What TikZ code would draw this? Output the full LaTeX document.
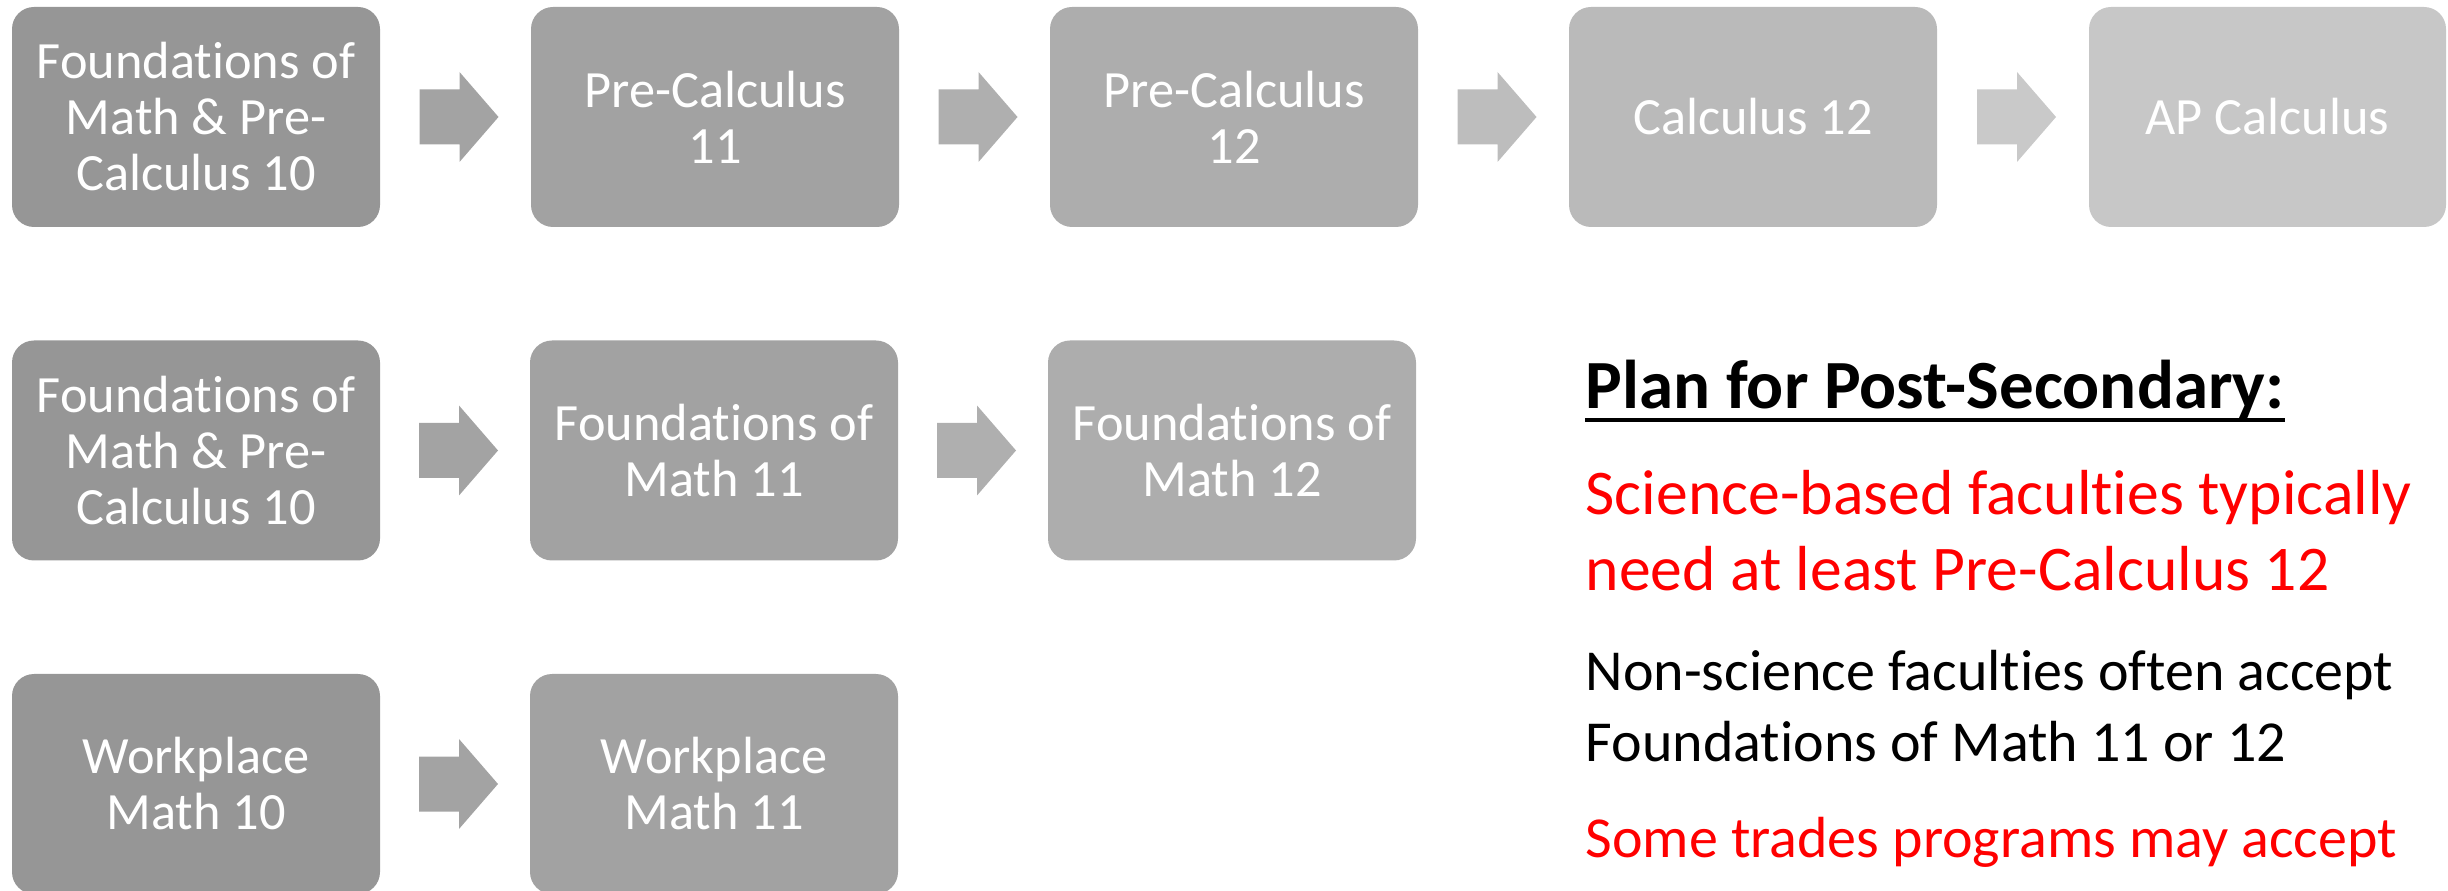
\documentclass[tikz,border=0pt]{standalone}
\usepackage{fontspec}
\setmainfont{Carlito}[Ligatures={NoCommon}, RawFeature={-liga;-clig}]
\usetikzlibrary{calc}
\definecolor{gA}{HTML}{969696}
\definecolor{gB}{HTML}{A2A2A2}
\definecolor{gC}{HTML}{ADADAD}
\definecolor{gD}{HTML}{BABABA}
\definecolor{gE}{HTML}{C7C7C7}
\definecolor{aA}{HTML}{A3A3A3}
\definecolor{aB}{HTML}{AFAFAF}
\definecolor{aC}{HTML}{BDBDBD}
\definecolor{aD}{HTML}{C9C9C9}
\definecolor{redtext}{HTML}{FF0000}
\newcommand{\bkarrow}[3]{\fill[#3] ($(#1.east)!0.5!(#2.west)+(-36,-27.5)$) -- ++(40,0) -- ++(0,-17.5) -- ++(39,45) -- ++(-39,45) -- ++(0,-17.5) -- ++(-40,0) -- cycle;}
\tikzset{
  box/.style={rectangle, rounded corners=6.6pt, minimum width=110.4pt, minimum height=66pt,
    inner sep=0pt, align=center, text=white, font=\fontsize{15.7}{16.8}\selectfont},
  side/.style={anchor=base west, inner sep=0pt},
  big/.style={side, font=\fontsize{19.1}{22}\selectfont, text=redtext},
  small/.style={side, font=\fontsize{17.4}{21}\selectfont}
}
\begin{document}
\begin{tikzpicture}[x=0.3pt, y=-0.3pt]
\useasboundingbox (0,0) rectangle (2448,891);
\clip (0,0) rectangle (2448,891);
% row 1
\node[box, fill=gA] (r1a) at (196,117) {Foundations of\\Math \& Pre-\\Calculus 10};
\node[box, fill=gB] (r1b) at (715,117) {Pre-Calculus\\11};
\node[box, fill=gC] (r1c) at (1234,117) {Pre-Calculus\\12};
\node[box, fill=gD] (r1d) at (1753,117) {Calculus 12};
\node[box, fill=gE, minimum width=107.1pt] (r1e) at (2267.5,117) {AP Calculus};
\bkarrow{r1a}{r1b}{aA}
\bkarrow{r1b}{r1c}{aB}
\bkarrow{r1c}{r1d}{aC}
\bkarrow{r1d}{r1e}{aD}
% row 2
\node[box, fill=gA] (r2a) at (196,450.5) {Foundations of\\Math \& Pre-\\Calculus 10};
\node[box, fill=gB] (r2b) at (714,450.5) {Foundations of\\Math 11};
\node[box, fill=gC] (r2c) at (1232,450.5) {Foundations of\\Math 12};
\bkarrow{r2a}{r2b}{aA}
\bkarrow{r2b}{r2c}{aB}
% row 3
\node[box, fill=gA] (r3a) at (196,784) {Workplace\\Math 10};
\node[box, fill=gB] (r3b) at (714,784) {Workplace\\Math 11};
\bkarrow{r3a}{r3b}{aA}
% right text
\node[side, font=\fontsize{20.7}{24}\selectfont\bfseries] (head) at (1585,409) {Plan for Post-Secondary:};
\draw[line width=1.2pt] ([yshift=-3.3pt]head.base west) -- ([yshift=-3.3pt]head.base east);
\node[big] (sci1) at (1585,515) {Science-based faculties typically};
\node[big] (sci2) at (1585,591) {need at least Pre-Calculus 12};
\node[small] (non1) at (1585,691) {Non-science faculties often accept};
\node[small] (non2) at (1585,762) {Foundations of Math 11 or 12};
\node[small, text=redtext] (trd1) at (1585,857) {Some trades programs may accept};
\end{tikzpicture}
\end{document}
